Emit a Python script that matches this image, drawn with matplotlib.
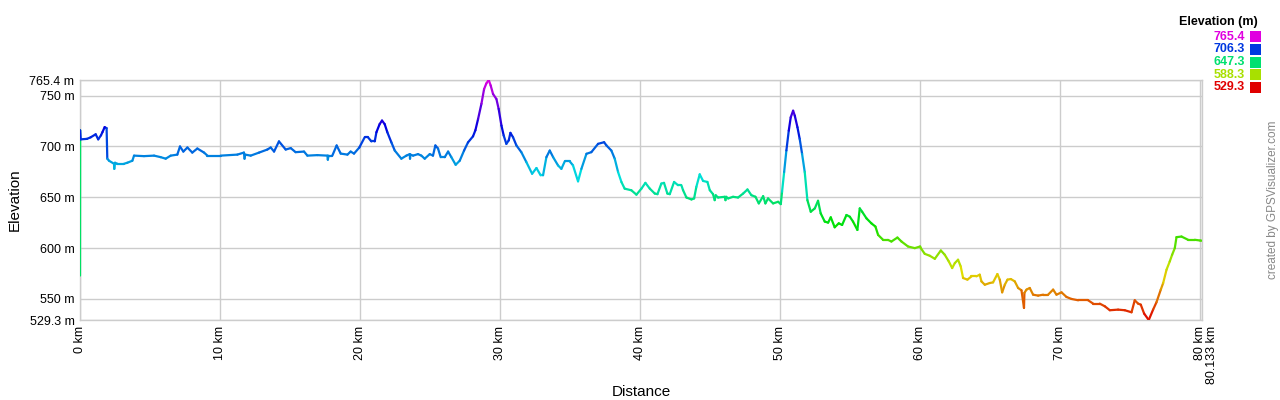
import numpy as np
import matplotlib
matplotlib.use('Agg')
import matplotlib.pyplot as plt
from matplotlib.collections import LineCollection
from matplotlib.colors import hsv_to_rgb
from matplotlib.patches import Rectangle
from matplotlib.transforms import ScaledTranslation

plt.rcParams['font.family'] = ['Liberation Sans', 'DejaVu Sans']

# distance (km) / elevation (m)
dist_km = [
    0.0, 0.01, 0.05, 0.5, 0.76, 1.12, 1.3, 1.5, 1.6, 1.76, 1.9, 1.95, 2.07, 2.43, 2.45, 2.5,
    2.67, 3.14, 3.38, 3.74, 3.86, 4.57, 5.29, 5.76, 6.12, 6.48, 6.95, 7.14, 7.38, 7.67, 8.02,
    8.38, 8.86, 9.10, 10.05, 11.24, 11.71, 11.75, 11.8, 12.19, 12.79, 13.38, 13.62, 13.86,
    14.21, 14.69, 15.05, 15.40, 16.0, 16.24, 16.95, 17.67, 17.7, 17.75, 18.02, 18.33, 18.62,
    19.10, 19.33, 19.57, 19.95,
    20.33, 20.57, 20.81, 21.05, 21.17, 21.40, 21.57, 21.76, 21.95, 22.24, 22.48, 22.95, 23.31,
    23.55, 23.57, 23.6, 23.79, 24.14, 24.38, 24.62, 24.98, 25.21, 25.38, 25.57, 25.76, 26.05,
    26.29, 26.52, 26.83, 27.12, 27.43, 27.71, 28.07, 28.24, 28.43, 28.67, 28.86, 29.02, 29.19,
    29.33, 29.5, 29.74, 29.90, 30.10, 30.26, 30.45, 30.62, 30.74, 30.93, 31.17, 31.52, 31.88,
    32.29, 32.6, 32.9, 33.07, 33.31, 33.55, 33.79, 34.14, 34.38, 34.62, 34.98, 35.21, 35.57,
    35.81, 36.17, 36.52, 37.0, 37.43, 37.6, 37.95, 38.19, 38.43, 38.67, 38.9, 39.38, 39.74,
    40.1, 40.38, 40.69, 41.05, 41.24, 41.52, 41.71, 41.95, 42.12, 42.43, 42.71, 42.95, 43.07,
    43.31, 43.67, 43.86, 44.02, 44.26, 44.5, 44.81, 44.98, 45.21, 45.33, 45.4, 45.57, 46.05,
    46.1, 46.15, 46.29, 46.64, 47.0, 47.36, 47.67, 47.95, 48.24, 48.48, 48.79, 48.95, 49.14,
    49.5, 49.86, 50.05, 50.14, 50.29, 50.45, 50.62, 50.76, 50.93, 51.05, 51.24, 51.4, 51.57,
    51.76, 51.95, 52.19, 52.48, 52.71, 52.9, 53.19, 53.43, 53.62, 53.9, 54.19, 54.43, 54.74,
    54.98, 55.21, 55.52, 55.69, 55.86, 56.17, 56.52, 56.81, 57.0, 57.36, 57.71, 57.95, 58.38,
    58.67, 59.14, 59.62, 60.0,
    60.05, 60.33, 60.69, 61.05, 61.48, 61.76, 62.05, 62.29, 62.48, 62.71, 62.9, 63.07, 63.38,
    63.67, 64.02, 64.26, 64.38, 64.62, 64.98, 65.21, 65.52, 65.69, 65.86, 66.05, 66.24, 66.48,
    66.76, 67.0, 67.24, 67.42, 67.45, 67.6, 67.83, 68.07, 68.43, 68.79, 69.14, 69.5, 69.74,
    70.1, 70.45, 70.81, 71.29, 72.0, 72.36, 72.83, 73.19, 73.55, 74.14, 74.62, 75.1, 75.33,
    75.57, 75.76, 76.0, 76.33, 76.64, 76.88, 77.19, 77.36, 77.6, 77.83, 78.0, 78.19, 78.31,
    78.67, 79.14, 79.62, 80.0, 80.133,
]
elev_m = [
    573, 716, 707, 707.5, 709, 712, 707, 711, 714, 719, 718, 688, 686, 683, 678, 684,
    683, 683, 684, 686, 691, 690.5, 691, 689.5, 688, 691, 692, 700, 695, 699, 694,
    698, 694, 691, 691, 692, 694, 688, 692, 691, 694, 697, 699, 695,
    705, 697, 698.4, 694.4, 695, 691, 691.5, 691, 687, 691, 691, 701, 693,
    692, 695, 693, 699,
    709, 709, 705, 705, 714, 722, 725.5, 722, 714, 704, 696, 688, 691,
    692.5, 688, 692, 691, 692.5, 691, 688, 692.5, 691, 701, 698, 689.5, 689.5,
    695, 689.5, 682, 686, 696, 704, 710, 716, 727, 742, 756.5, 762, 765.4,
    760, 751.6, 746.7, 737, 720.6, 710.8, 702.6, 706, 713.4, 709, 701, 694.4, 684.6,
    673.2, 678.8, 671.6, 671.6, 689.5, 696, 689.5, 681.4, 678, 685.3, 685.3, 681.4, 665.7,
    678, 692.8, 694.4, 702.6, 704.2, 701, 696, 688, 674.8, 665, 658.5, 656.9, 652.6,
    658.6, 664.2, 658.6, 653.7, 653.1, 663.5, 664.2, 653.7, 653.1, 665.1, 661.9, 661.9, 657,
    649.8, 647.9, 648.9, 660.3, 672.6, 666.1, 665.1, 657, 653.1, 647.2, 652, 649.8, 650.5,
    647.2, 650.5, 648.9, 650.5, 649.8, 653.7, 657.7, 652.1, 650.5, 644, 651.1, 644, 648.9,
    644, 645.6, 643.3, 655.4, 674.9, 696.1, 715.6, 728.7, 735.2, 730.3, 718.9, 707.5, 692.8,
    674.9, 647.2, 635.8, 639.1, 646.6, 634.2, 626.1, 625.1, 630.3, 620.5, 624.4, 622.8, 632.6,
    630.9, 626.1, 617.9, 639.1, 635.8, 629.3, 624.4, 621.2, 613, 608.1, 608.1, 606.5, 610.4,
    606.5, 601.6, 600, 601.6,
    600, 594.4, 592.5, 589.5, 597.7, 593.5, 586.9, 580.4, 585.3, 588.6, 582, 570.6, 569,
    572.2, 572.2, 573.9, 567.3, 564, 565.7, 566.3, 574.5, 569, 556.5, 564, 569, 569.6,
    567.3, 560.8, 558.5, 541.2, 556, 559.2, 560.8, 554.2, 553.3, 554.2, 554.2, 559.2, 554.2,
    556.5, 552, 550, 548.7, 548.7, 545.4, 545.4, 542.8, 538.9, 539.5, 538.9, 536.9, 548.7,
    545.4, 544.4, 535.6, 529.3, 539.5, 546.7, 559.2, 565.7, 578.8, 586.9, 593.5, 600, 610.8,
    611.4, 608.2, 608.2, 607.5, 607.3,
]

total_km = 80.133
elev_min, elev_max = 529.3, 765.4
y_ticks = [529.3, 550, 600, 650, 700, 750, 765.4]
x_ticks = [0, 10, 20, 30, 40, 50, 60, 70, 80, 80.133]
legend_values = [765.4, 706.3, 647.3, 588.3, 529.3]


def elev_color(e):
    frac = (np.asarray(e) - elev_min) / (elev_max - elev_min)
    hsv = np.stack([frac * 300 / 360, np.ones_like(frac), np.full_like(frac, 0.88)], axis=-1)
    return hsv_to_rgb(hsv)


fig = plt.figure(figsize=(12.8, 4), dpi=100, facecolor='white')
ax = fig.add_axes([80 / 1280, 80 / 400, 1122 / 1280, 240 / 400])

x = np.array(dist_km)
y = np.array(elev_m)
pts = np.column_stack([x, y]).reshape(-1, 1, 2)
segs = np.concatenate([pts[:-1], pts[1:]], axis=1)
lc = LineCollection(segs, colors=elev_color((y[:-1] + y[1:]) / 2), linewidths=1.6,
                    capstyle='round', joinstyle='round', zorder=3)
ax.add_collection(lc)

ax.set_xlim(0, total_km)
ax.set_ylim(elev_min, elev_max)

ax.set_yticks(y_ticks)
ax.set_yticklabels([f'{v:g} m' for v in y_ticks], fontsize=9)
ax.set_xticks(x_ticks)
ax.set_xticklabels([f'{v:g} km' for v in x_ticks], fontsize=9, rotation=90)
ax.tick_params(length=0, pad=4, colors='black')
labels = ax.get_xticklabels()
# the last two labels sit side by side instead of overlapping
labels[-1].set_ha('left')
labels[-1].set_transform(labels[-1].get_transform() +
                         ScaledTranslation(4 / 100, 0, fig.dpi_scale_trans))

ax.grid(True, color='#cccccc', linewidth=1)
for s in ax.spines.values():
    s.set_color('#cccccc')
    s.set_linewidth(1)

ax.set_ylabel('Elevation', fontsize=11)
ax.yaxis.set_label_coords(-0.052, 0.5)
ax.set_xlabel('Distance', fontsize=11)
ax.xaxis.set_label_coords(0.5, -0.27)

# legend block at top right
fig.text(1258 / 1280, 1 - 22 / 400, 'Elevation (m)', ha='right', va='center',
         fontsize=9, fontweight='bold')
for i, v in enumerate(legend_values):
    yc = 36.5 + i * 12.75
    c = elev_color(v)
    fig.text(1245 / 1280, 1 - yc / 400, f'{v:.1f}', ha='right', va='center',
             fontsize=9, fontweight='bold', color=c)
    fig.patches.append(Rectangle((1250 / 1280, 1 - (yc + 5.5) / 400), 11 / 1280, 11 / 400,
                                 transform=fig.transFigure, facecolor=c, edgecolor='none'))

fig.text(1273 / 1280, 0.5, 'created by GPSVisualizer.com', rotation=90, ha='center',
         va='center', fontsize=8.5, color='#888888')

fig.savefig('out.png', dpi=100, facecolor='white')
